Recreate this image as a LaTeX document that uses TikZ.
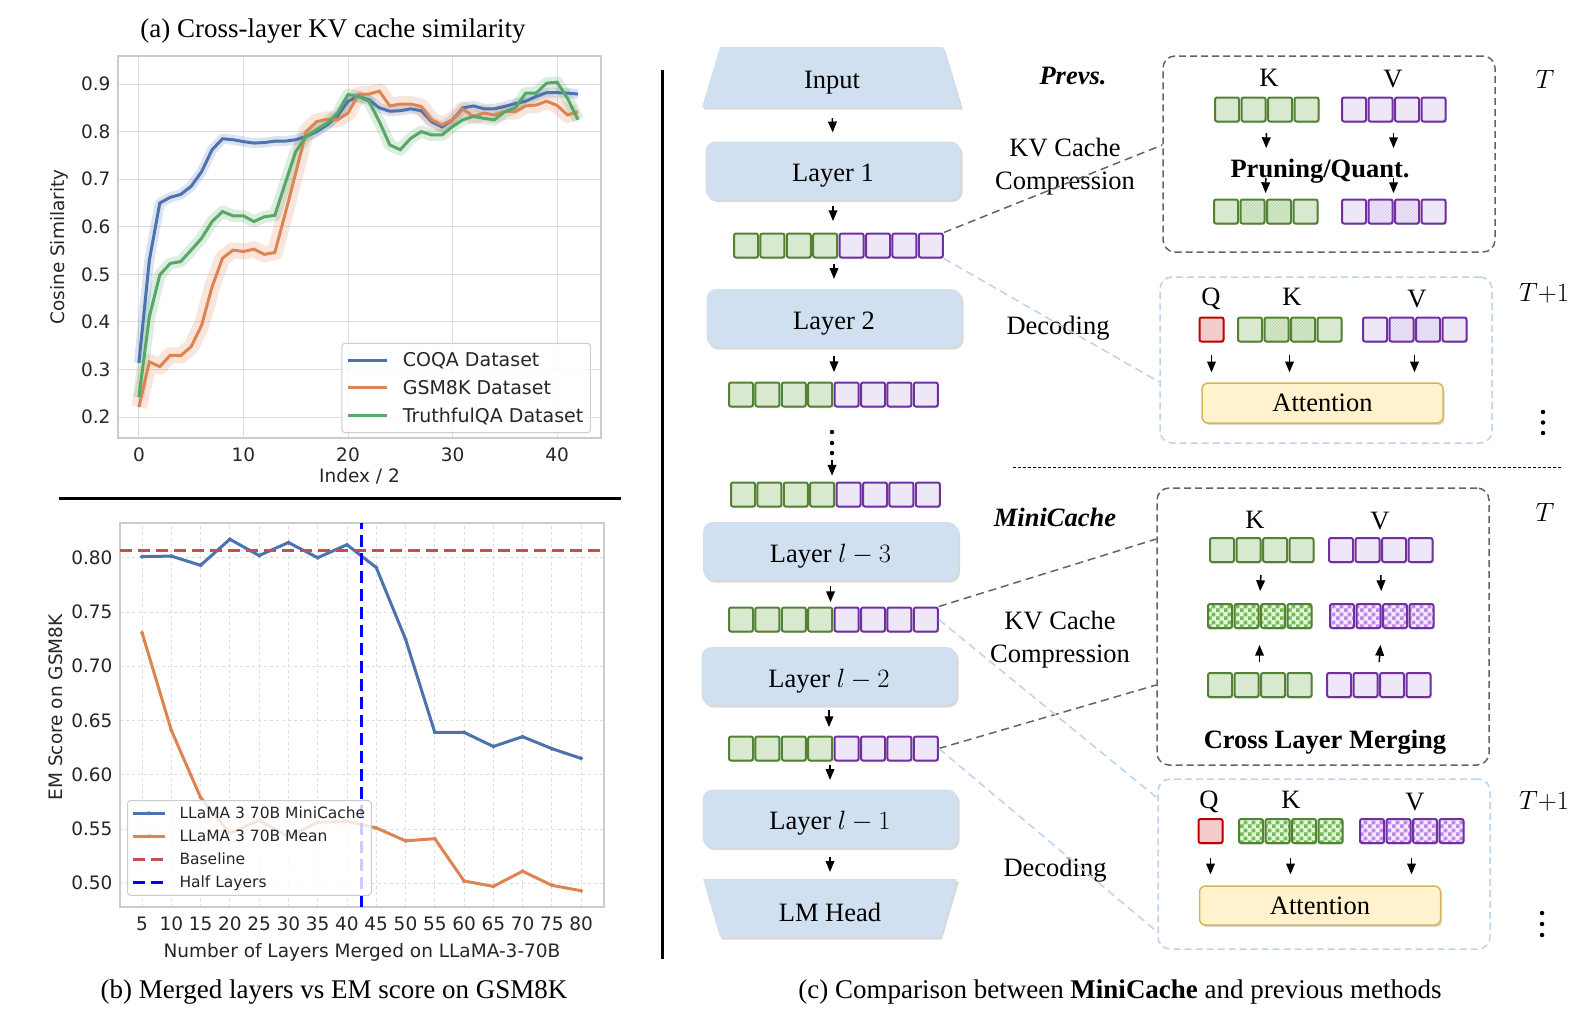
\documentclass[tikz,border=0pt]{standalone}
\usepackage{fix-cm}
\usepackage{fontspec}
\setmainfont{Liberation Serif}
\newfontfamily\plotfont{DejaVu Sans}
\usepackage{tikz}
\usepackage{pgfplots}
\pgfplotsset{compat=1.18}
\usetikzlibrary{arrows,backgrounds,shapes,positioning,fit,patterns,shadows}
\usepackage{amsmath}

\definecolor{layerblue}{RGB}{208,224,241}
\definecolor{kgreen}{RGB}{84,130,53}
\definecolor{kfill}{RGB}{217,233,207}
\definecolor{khatchc}{RGB}{182,214,164}
\definecolor{kcheckbg}{RGB}{232,245,225}
\definecolor{kcheckc}{RGB}{110,190,80}
\definecolor{vpurple}{RGB}{112,48,160}
\definecolor{vfill}{RGB}{237,231,247}
\definecolor{vhatchc}{RGB}{216,200,240}
\definecolor{vcheckbg}{RGB}{244,236,252}
\definecolor{vcheckc}{RGB}{192,135,240}
\definecolor{qred}{RGB}{192,0,0}
\definecolor{qfill}{RGB}{244,204,204}
\definecolor{attfill}{RGB}{255,242,204}
\definecolor{attdraw}{RGB}{214,182,86}
\definecolor{decblue}{RGB}{189,210,236}
\definecolor{boxgray}{RGB}{100,100,100}
\definecolor{sbblue}{RGB}{76,114,176}
\definecolor{sborange}{RGB}{221,132,82}
\definecolor{sbgreen}{RGB}{85,168,104}
\definecolor{sbred}{RGB}{196,78,82}
\definecolor{gridgray}{RGB}{221,221,221}
\definecolor{framegray}{RGB}{204,204,204}
\definecolor{ticktext}{RGB}{38,38,38}

\newcommand{\lblsize}{\fontsize{26.5}{33}\selectfont}
\newcommand{\capsize}{\fontsize{27}{32}\selectfont}
\newcommand{\plotsize}{\plotfont\fontsize{18.5}{22}\selectfont}
\newcommand{\legasize}{\plotfont\fontsize{19}{22}\selectfont}
\newcommand{\legsize}{\plotfont\fontsize{15.5}{19}\selectfont}

\pgfdeclarepatternformonly{kvcheck}{\pgfpointorigin}{\pgfqpoint{8pt}{8pt}}{\pgfqpoint{8pt}{8pt}}{%
  \pgfpathrectangle{\pgfpointorigin}{\pgfqpoint{4pt}{4pt}}%
  \pgfpathrectangle{\pgfqpoint{4pt}{4pt}}{\pgfqpoint{4pt}{4pt}}%
  \pgfusepath{fill}}

% 8-cell KV row: name, x of first cell, y
\newcommand{\kvrow}[3]{%
  \foreach \i in {1,...,4} \node[kcell] (#1k\i) at ({#2+26.4*(\i-1)},#3) {};
  \foreach \i in {1,...,4} \node[vcell] (#1v\i) at ({#2+26.4*(\i+3)},#3) {};
}

\pgfplotstableread[row sep=\\]{
i coqa gsm tqa\\
0 0.314 0.221 0.242\\
1 0.530 0.316 0.411\\
2 0.650 0.306 0.499\\
3 0.662 0.330 0.523\\
4 0.668 0.329 0.527\\
5 0.685 0.348 0.551\\
6 0.716 0.393 0.576\\
7 0.762 0.474 0.611\\
8 0.785 0.534 0.632\\
9 0.783 0.551 0.623\\
10 0.779 0.548 0.623\\
11 0.776 0.553 0.611\\
12 0.777 0.542 0.621\\
13 0.780 0.546 0.624\\
14 0.780 0.628 0.692\\
15 0.783 0.713 0.758\\
16 0.790 0.800 0.790\\
17 0.800 0.821 0.804\\
18 0.814 0.826 0.818\\
19 0.833 0.825 0.839\\
20 0.864 0.839 0.878\\
21 0.874 0.878 0.874\\
22 0.867 0.879 0.864\\
23 0.850 0.885 0.821\\
24 0.843 0.854 0.772\\
25 0.844 0.858 0.762\\
26 0.848 0.858 0.786\\
27 0.844 0.853 0.800\\
28 0.821 0.825 0.793\\
29 0.810 0.814 0.793\\
30 0.825 0.825 0.811\\
31 0.850 0.847 0.825\\
32 0.854 0.832 0.832\\
33 0.848 0.839 0.828\\
34 0.848 0.835 0.825\\
35 0.853 0.842 0.842\\
36 0.859 0.842 0.850\\
37 0.864 0.854 0.881\\
38 0.874 0.856 0.881\\
39 0.882 0.864 0.902\\
40 0.882 0.855 0.904\\
41 0.881 0.835 0.870\\
42 0.879 0.842 0.825\\
}\simtab

\pgfplotstableread[row sep=\\]{
n mini mean\\
5 0.801 0.731\\
10 0.8015 0.641\\
15 0.793 0.579\\
20 0.817 0.546\\
25 0.802 0.558\\
30 0.814 0.543\\
35 0.800 0.556\\
40 0.812 0.557\\
45 0.791 0.551\\
50 0.725 0.539\\
55 0.639 0.541\\
60 0.639 0.502\\
65 0.626 0.497\\
70 0.635 0.511\\
75 0.624 0.498\\
80 0.615 0.493\\
}\emtab

\begin{document}
\begin{tikzpicture}[thick, >=triangle 45, every text node part/.style={align=center},
  lbl/.style={font=\lblsize, inner sep=0pt, text depth=0pt},
  layer/.style={fill=layerblue, rounded corners=10pt, minimum width=255pt, minimum height=58pt, font=\lblsize,
    text height=22pt, text depth=0pt, drop shadow={shadow xshift=2pt, shadow yshift=-2.5pt, opacity=0.3}},
  kcell/.style={draw=kgreen, fill=kfill, line width=2pt, rounded corners=2pt, minimum size=24pt, inner sep=0pt,
    drop shadow={shadow xshift=1pt, shadow yshift=-1.5pt, opacity=0.3}},
  vcell/.style={kcell, draw=vpurple, fill=vfill},
  khatch/.style={kcell, preaction={fill=kfill}, pattern=north east lines, pattern color=khatchc},
  vhatch/.style={vcell, preaction={fill=vfill}, pattern=north east lines, pattern color=vhatchc},
  kmerge/.style={kcell, preaction={fill=kcheckbg}, pattern=kvcheck, pattern color=kcheckc},
  vmerge/.style={vcell, preaction={fill=vcheckbg}, pattern=kvcheck, pattern color=vcheckc},
  qcell/.style={kcell, draw=qred, fill=qfill},
  attn/.style={fill=attfill, draw=attdraw, line width=1.5pt, rounded corners=6pt, minimum width=241pt, minimum height=40pt,
    font=\lblsize, drop shadow={shadow xshift=1.5pt, shadow yshift=-2pt, opacity=0.3}},
  cachebox/.style={draw=boxgray, line width=1.5pt, dash pattern=on 7pt off 4pt, rounded corners=12pt, minimum width=332pt},
  decbox/.style={cachebox, draw=decblue},
  grayconn/.style={draw=boxgray, line width=1.5pt, dash pattern=on 8pt off 5pt},
  blueconn/.style={draw=decblue, line width=1.5pt, dash pattern=on 8pt off 5pt},
  flow/.style={->, line width=1.5pt},
  vdot/.style={circle, fill=black, inner sep=0pt, minimum size=4.5pt}]
\useasboundingbox (0pt,0pt) rectangle (1592pt,-1012pt);

% (a) similarity plot
\begin{axis}[at={(118pt,-438pt)}, anchor=south west, scale only axis, width=483pt, height=382pt,
  xmin=-2.0, xmax=44.2, ymin=0.156, ymax=0.959,
  xtick={0,10,20,30,40}, ytick={0.2,0.3,0.4,0.5,0.6,0.7,0.8,0.9},
  grid=major, major grid style={gridgray, line width=1pt},
  axis line style={framegray, line width=1.5pt}, major tick length=0pt,
  tick label style={font=\plotsize, text=ticktext},
  xticklabel style={yshift=-6pt}, yticklabel style={xshift=-4pt},
  xticklabel={\pgfmathprintnumber[assume math mode=true]{\tick}},
  yticklabel={\pgfmathprintnumber[assume math mode=true, fixed, fixed zerofill, precision=1]{\tick}},
  xlabel={Index / 2}, ylabel={Cosine Similarity},
  label style={font=\plotsize, text=ticktext},
  xlabel style={at={(axis description cs:0.5,-0.1)}, anchor=center},
  ylabel style={at={(axis description cs:-0.122,0.5)}, anchor=center},
  legend style={at={(0.979,0.013)}, anchor=south east, draw=framegray, line width=1pt, fill=white,
    fill opacity=0.8, draw opacity=1, text opacity=1, font=\legasize, text=ticktext, rounded corners=3pt,
    row sep=8pt, column sep=12pt, inner xsep=5pt, inner ysep=7pt},
  legend cell align=left,
  legend image code/.code={\draw[#1] (0pt,0pt) -- (39pt,0pt);}]
\addplot[forget plot, mark=none, sbblue, line width=10pt, opacity=0.2, line join=round] table[x=i, y=coqa] {\simtab};
\addplot[forget plot, mark=none, sborange, line width=16pt, opacity=0.2, line join=round] table[x=i, y=gsm] {\simtab};
\addplot[forget plot, mark=none, sbgreen, line width=12pt, opacity=0.2, line join=round] table[x=i, y=tqa] {\simtab};
\addplot[mark=none, sbblue, line width=3pt] table[x=i, y=coqa] {\simtab};
\addlegendentry{COQA Dataset}
\addplot[mark=none, sborange, line width=3pt] table[x=i, y=gsm] {\simtab};
\addlegendentry{GSM8K Dataset}
\addplot[mark=none, sbgreen, line width=3pt] table[x=i, y=tqa] {\simtab};
\addlegendentry{TruthfulQA Dataset}
\end{axis}

% (b) merged layers plot
\begin{axis}[at={(120pt,-907pt)}, anchor=south west, scale only axis, width=484pt, height=384pt,
  xmin=1.24, xmax=83.9, ymin=0.478, ymax=0.832,
  xtick={5,10,15,20,25,30,35,40,45,50,55,60,65,70,75,80}, ytick={0.50,0.55,0.60,0.65,0.70,0.75,0.80},
  grid=major, major grid style={gridgray, line width=0.8pt, dash pattern=on 3pt off 3pt},
  axis line style={framegray, line width=1.5pt}, major tick length=0pt,
  tick label style={font=\plotsize, text=ticktext},
  xticklabel style={yshift=-6pt}, yticklabel style={xshift=-4pt},
  xticklabel={\pgfmathprintnumber[assume math mode=true]{\tick}},
  yticklabel={\pgfmathprintnumber[assume math mode=true, fixed, fixed zerofill, precision=2]{\tick}},
  xlabel={Number of Layers Merged on LLaMA-3-70B}, ylabel={EM Score on GSM8K},
  label style={font=\plotsize, text=ticktext},
  xlabel style={at={(axis description cs:0.5,-0.117)}, anchor=center},
  ylabel style={at={(axis description cs:-0.132,0.52)}, anchor=center},
  legend style={at={(0.0145,0.029)}, anchor=south west, draw=framegray, line width=1pt, fill=white,
    fill opacity=0.8, draw opacity=1, text opacity=1, font=\legsize, text=ticktext, rounded corners=3pt,
    row sep=6pt, column sep=11pt, inner xsep=4pt, inner ysep=4pt},
  legend cell align=left,
  legend image code/.code={\draw[#1, mark repeat=2, mark phase=2] plot coordinates {(0pt,0pt) (16pt,0pt) (32pt,0pt)};}]
\addplot[sbblue, line width=3pt, mark=*, mark size=1.8pt, mark options={line width=0.5pt}] table[x=n, y=mini] {\emtab};
\addlegendentry{LLaMA 3 70B MiniCache}
\addplot[sborange, line width=3pt, mark=*, mark size=1.8pt, mark options={line width=0.5pt}] table[x=n, y=mean] {\emtab};
\addlegendentry{LLaMA 3 70B Mean}
\addplot[sbred, mark=none, line width=3pt, dash pattern=on 12pt off 6pt] coordinates {(1.24,0.8065) (83.9,0.8065)};
\addlegendentry{Baseline}
\addplot[blue, mark=none, line width=3pt, dash pattern=on 12pt off 6pt] coordinates {(42.5,0.478) (42.5,0.832)};
\addlegendentry{Half Layers}
\end{axis}

\begin{scope}[x=1pt, y=-1pt]
% titles and captions
\node[font=\capsize] (titlea) at (333,31) {(a) Cross-layer KV cache similarity};
\node[font=\capsize] (captb) at (334,992) {(b) Merged layers vs EM score on GSM8K};
\node[font=\capsize] (captc) at (1120,992) {(c) Comparison between \textbf{MiniCache} and previous methods};
\draw[line width=3pt] (59,498) -- (621,498);
\draw[line width=3pt] (662,70) -- (662,959);

% layer stack
\fill[layerblue, drop shadow={shadow xshift=2pt, shadow yshift=-2.5pt, opacity=0.3}] (720,47) -- (943,47) -- (961,107) -- (702,107) -- cycle;
\node[lbl, minimum width=259pt, minimum height=54pt] (input) at (832,80) {Input};
\node[layer] (layer1) at (833,170.5) {Layer 1};
\kvrow{ra}{746}{245.5}
\node[layer] (layer2) at (834,318) {Layer 2};
\kvrow{rb}{741}{394.5}
\node[vdot] (vd1) at (832,432) {};
\node[vdot] (vd2) at (832,443) {};
\node[vdot] (vd3) at (832,453) {};
\kvrow{rc}{743}{494.5}
\node[layer] (layerc) at (830.5,551) {Layer $l-3$};
\kvrow{rd}{741}{619.5}
\node[layer] (layerd) at (829,676) {Layer $l-2$};
\kvrow{re}{741}{748.5}
\node[layer] (layere) at (830,818.5) {Layer $l-1$};
\fill[layerblue, drop shadow={shadow xshift=2pt, shadow yshift=-2.5pt, opacity=0.3}] (703,879) -- (957,879) -- (940,937) -- (720,937) -- cycle;
\node[lbl, minimum width=254pt, minimum height=50pt] (lmhead) at (830,912) {LM Head};

\draw[flow, shorten <=11pt, shorten >=9pt] (input.south) -- (layer1.north);
\draw[flow, shorten <=6pt, shorten >=11.5pt] (layer1.south) -- (layer1.south |- rak1.north);
\draw[flow, shorten <=5pt, shorten >=10pt] (layer2.north |- rak1.south) -- (layer2.north);
\draw[flow, shorten <=9pt, shorten >=9.5pt] (layer2.south) -- (layer2.south |- rbk1.north);
\draw[flow, shorten <=5pt, shorten >=6pt] (vd3) -- (vd3 |- rck1.north);
\draw[flow, shorten <=6pt, shorten >=4.5pt] (layerc.south) -- (layerc.south |- rdk1.north);
\draw[flow, shorten <=5pt, shorten >=8.5pt] (layerd.south) -- (layerd.south |- rek1.north);
\draw[flow, shorten <=3.5pt, shorten >=9.5pt] (layere.north |- rek1.south) -- (layere.north);
\draw[flow, shorten <=9.5pt, shorten >=15pt] (layere.south) -- (lmhead.north);

% side labels
\node[lbl, font=\lblsize\bfseries\itshape] (prevs) at (1073,76) {Prevs.};
\node[lbl] (kvtop) at (1065,163.5) {KV Cache\\Compression};
\node[lbl] (dectop) at (1058,325) {Decoding};
\node[lbl, font=\lblsize\bfseries\itshape] (minic) at (1055,517) {MiniCache};
\node[lbl] (kvbot) at (1060,636.5) {KV Cache\\Compression};
\node[lbl] (decbot) at (1055,867) {Decoding};
\draw[line width=1pt, dash pattern=on 3pt off 2pt] (1013,467) -- (1562,467);

% previous methods: compression at T
\node[cachebox, minimum height=196pt] (prev) at (1329,154) {};
\node[lbl] (pk) at (1269,78) {K};
\node[lbl] (pv) at (1393,79) {V};
\foreach \i in {1,...,4} \node[kcell] (pka\i) at ({1227+26.5*(\i-1)},109.5) {};
\foreach \i in {1,...,4} \node[vcell] (pva\i) at ({1354+26.5*(\i-1)},109.5) {};
\foreach \i/\s in {1/kcell,2/khatch,3/khatch,4/kcell} \node[\s] (pkb\i) at ({1226+26.5*(\i-1)},211.5) {};
\foreach \i/\s in {1/vcell,2/vhatch,3/vhatch,4/vcell} \node[\s] (pvb\i) at ({1354+26.5*(\i-1)},211.5) {};
\node[lbl, font=\lblsize\bfseries] (prune) at (1320,168) {Pruning/Quant.};
\draw[flow, shorten <=10.5pt, shorten >=50.5pt] (pka2.south east) -- (pkb2.north east);
\draw[flow, shorten <=55.5pt, shorten >=5.5pt] (pka2.south east) -- (pkb2.north east);
\draw[flow, shorten <=10.5pt, shorten >=50.5pt] (pva2.south east) -- (pvb2.north east);
\draw[flow, shorten <=55.5pt, shorten >=5.5pt] (pva2.south east) -- (pvb2.north east);
\node[lbl] (ta) at (1545,79) {$T$};

% previous methods: decoding at T+1
\node[decbox, minimum height=166pt] (deca) at (1326,360) {};
\node[lbl] (daql) at (1211,297) {Q};
\node[lbl] (dakl) at (1292,297) {K};
\node[lbl] (davl) at (1417,299) {V};
\node[qcell] (daq) at (1211.5,329.5) {};
\foreach \i/\s in {1/kcell,2/khatch,3/khatch,4/kcell} \node[\s] (dak\i) at ({1250+26.5*(\i-1)},329.5) {};
\foreach \i/\s in {1/vcell,2/vhatch,3/vhatch,4/vcell} \node[\s] (dav\i) at ({1375+26.5*(\i-1)},329.5) {};
\node[attn] (atta) at (1322.5,403) {Attention};
\draw[flow, shorten <=12.5pt, shorten >=10pt] (daq.south) -- (daq.south |- atta.north);
\draw[flow, shorten <=12.5pt, shorten >=10pt] (dak2.south east) -- (dak2.south east |- atta.north);
\draw[flow, shorten <=12.5pt, shorten >=10pt] (dav2.south east) -- (dav2.south east |- atta.north);
\node[lbl] (tb) at (1544,292) {$T{+}1$};
\node[vdot] (rd1) at (1543,412) {};
\node[vdot] (rd2) at (1543,422.5) {};
\node[vdot] (rd3) at (1543,433) {};

% MiniCache: cross layer merging at T
\node[cachebox, minimum height=277pt] (mc) at (1323,626.5) {};
\node[lbl] (mk) at (1255,520) {K};
\node[lbl] (mv) at (1380,521) {V};
\foreach \i in {1,...,4} \node[kcell] (mka\i) at ({1222+26.5*(\i-1)},550) {};
\foreach \i in {1,...,4} \node[vcell] (mva\i) at ({1341+26.5*(\i-1)},550) {};
\foreach \i in {1,...,4} \node[kmerge] (mkb\i) at ({1220+26.5*(\i-1)},616) {};
\foreach \i in {1,...,4} \node[vmerge] (mvb\i) at ({1342+26.5*(\i-1)},616) {};
\foreach \i in {1,...,4} \node[kcell] (mkc\i) at ({1220+26.5*(\i-1)},685) {};
\foreach \i in {1,...,4} \node[vcell] (mvc\i) at ({1339+26.5*(\i-1)},685) {};
\draw[flow, shorten <=12pt, shorten >=12pt] (mka2.south east) -- (mkb2.north east);
\draw[flow, shorten <=12pt, shorten >=12pt] (mva2.south east) -- (mvb2.north east);
\draw[flow, shorten <=10pt, shorten >=16pt] (mkc2.north east) -- (mkb2.south east);
\draw[flow, shorten <=10pt, shorten >=16pt] (mvc2.north east) -- (mvb2.south east);
\node[lbl, font=\lblsize\bfseries] (merge) at (1325,739) {Cross Layer Merging};
\node[lbl] (tc) at (1545,512) {$T$};

% MiniCache: decoding at T+1
\node[decbox, minimum height=170pt] (decb) at (1324,864) {};
\node[lbl] (dbql) at (1209,800) {Q};
\node[lbl] (dbkl) at (1291,800) {K};
\node[lbl] (dbvl) at (1415,802) {V};
\node[qcell] (dbq) at (1210.5,831) {};
\foreach \i in {1,...,4} \node[kmerge] (dbk\i) at ({1251+26.5*(\i-1)},831) {};
\foreach \i in {1,...,4} \node[vmerge] (dbv\i) at ({1372+26.5*(\i-1)},831) {};
\node[attn, minimum height=39pt] (attb) at (1320,905.5) {Attention};
\draw[flow, shorten <=14pt, shorten >=11pt] (dbq.south) -- (dbq.south |- attb.north);
\draw[flow, shorten <=14pt, shorten >=11pt] (dbk2.south east) -- (dbk2.south east |- attb.north);
\draw[flow, shorten <=14pt, shorten >=11pt] (dbv2.south east) -- (dbv2.south east |- attb.north);
\node[lbl] (td) at (1544,800) {$T{+}1$};
\node[vdot] (rd4) at (1542,913) {};
\node[vdot] (rd5) at (1542,924) {};
\node[vdot] (rd6) at (1542,935) {};

% dashed links from the caches to the boxes
\draw[grayconn] (rav4.north east) -- ([yshift=9pt]prev.west);
\draw[blueconn] (rav4.south east) -- ([yshift=-22pt]deca.west);
\draw[grayconn] (rdv4.north east) -- ([yshift=87.5pt]mc.west);
\draw[grayconn] (rev4.east) -- ([yshift=-58.5pt]mc.west);
\draw[blueconn] (rdv4.east) -- ([yshift=66pt]decb.west);
\draw[blueconn] (rev4.east) -- ([yshift=-68pt]decb.west);
\end{scope}
\end{tikzpicture}
\end{document}
